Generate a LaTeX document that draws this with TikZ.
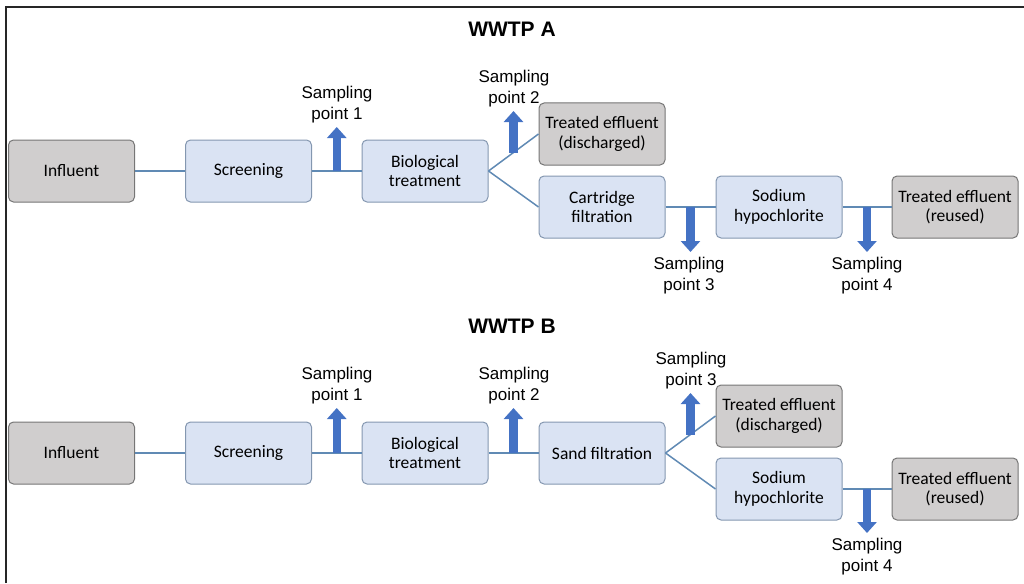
\documentclass[tikz,border=0pt]{standalone}
\usepackage{fontspec}
\setmainfont{Liberation Sans}
\newfontfamily\boxfont{Carlito}
\usetikzlibrary{arrows.meta,positioning,calc}
\definecolor{procfill}{RGB}{218,227,243}
\definecolor{procline}{RGB}{132,151,176}
\definecolor{endfill}{RGB}{208,206,206}
\definecolor{endline}{RGB}{118,118,118}
\definecolor{pipecol}{RGB}{96,138,180}
\definecolor{tapcol}{RGB}{68,114,196}
\tikzset{
  proc/.style={rectangle,rounded corners=5pt,draw=procline,fill=procfill,line width=1pt,minimum width=126pt,minimum height=62pt,align=center,font=\fontsize{17.5}{19.5}\boxfont},
  endb/.style={proc,draw=endline,fill=endfill},
  smp/.style={align=center,inner sep=0pt,font=\fontsize{17}{20.5}\selectfont},
  ttl/.style={font=\fontsize{21}{25}\selectfont\bfseries},
  pipe/.style={pipecol,line width=1.5pt},
  tap/.style={-{Triangle[width=19pt,length=11pt]},tapcol,line width=8.5pt},
}
\begin{document}
\begin{tikzpicture}[x=1pt,y=-1pt]
  \useasboundingbox (0,0) rectangle (1024,583);
  \draw[line width=2pt,black!85] (6,583) -- (6,7) -- (1024,7);

  % WWTP A
  \node[ttl] (tA) at (512,29) {WWTP A};
  \node[endb] (infA) at (71.5,171) {Influent};
  \node[proc] (scrA) at (248.5,171) {Screening};
  \node[proc] (bioA) at (425,171) {Biological\\treatment};
  \node[endb] (disA) at (602,134) {Treated effluent\\(discharged)};
  \node[proc] (carA) at (602,207) {Cartridge\\filtration};
  \node[proc] (sodA) at (779,207) {Sodium\\hypochlorite};
  \node[endb] (reuA) at (955,207) {Treated effluent\\(reused)};
  \draw[pipe] (infA) -- (scrA);
  \draw[pipe] (scrA) -- (bioA);
  \draw[pipe] (bioA.east) -- (disA.west);
  \draw[pipe] (bioA.east) -- (carA.west);
  \draw[pipe] (carA) -- (sodA);
  \draw[pipe] (sodA) -- (reuA);
  \coordinate (a1) at ($(scrA.east)!0.5!(bioA.west)$);
  \coordinate (a2) at ($(bioA.east)!0.5!(disA.west)$);
  \coordinate (a3) at ($(carA.east)!0.5!(sodA.west)$);
  \coordinate (a4) at ($(sodA.east)!0.5!(reuA.west)$);
  \node[smp,anchor=south] (pa1) at (337,123) {Sampling\\point 1};
  \node[smp,anchor=south] (pa2) at (514,107) {Sampling\\point 2};
  \node[smp,anchor=north] (pa3) at (689,257) {Sampling\\point 3};
  \node[smp,anchor=north] (pa4) at (867,257) {Sampling\\point 4};
  \draw[tap] (a1) -- ($(a1 |- pa1.south)+(0,4)$);
  \draw[tap] (a2) -- ($(a2 |- pa2.south)+(0,4)$);
  \draw[tap] (a3) -- ($(a3 |- pa3.north)+(0,-5)$);
  \draw[tap] (a4) -- ($(a4 |- pa4.north)+(0,-5)$);

  % WWTP B
  \node[ttl] (tB) at (512,326) {WWTP B};
  \node[endb] (infB) at (71.5,453) {Influent};
  \node[proc] (scrB) at (248.5,453) {Screening};
  \node[proc] (bioB) at (425,453) {Biological\\treatment};
  \node[proc] (sanB) at (602,453) {Sand filtration};
  \node[endb] (disB) at (779,416) {Treated effluent\\(discharged)};
  \node[proc] (sodB) at (779,489) {Sodium\\hypochlorite};
  \node[endb] (reuB) at (955,489) {Treated effluent\\(reused)};
  \draw[pipe] (infB) -- (scrB);
  \draw[pipe] (scrB) -- (bioB);
  \draw[pipe] (bioB) -- (sanB);
  \draw[pipe] (sanB.east) -- (disB.west);
  \draw[pipe] (sanB.east) -- (sodB.west);
  \draw[pipe] (sodB) -- (reuB);
  \coordinate (b1) at ($(scrB.east)!0.5!(bioB.west)$);
  \coordinate (b2) at ($(bioB.east)!0.5!(sanB.west)$);
  \coordinate (b3) at ($(sanB.east)!0.5!(disB.west)$);
  \coordinate (b4) at ($(sodB.east)!0.5!(reuB.west)$);
  \node[smp,anchor=south] (pb1) at (337,404) {Sampling\\point 1};
  \node[smp,anchor=south] (pb2) at (514,404) {Sampling\\point 2};
  \node[smp,anchor=south] (pb3) at (691,389) {Sampling\\point 3};
  \node[smp,anchor=north] (pb4) at (867,538) {Sampling\\point 4};
  \draw[tap] (b1) -- ($(b1 |- pb1.south)+(0,4)$);
  \draw[tap] (b2) -- ($(b2 |- pb2.south)+(0,4)$);
  \draw[tap] (b3) -- ($(b3 |- pb3.south)+(0,4)$);
  \draw[tap] (b4) -- ($(b4 |- pb4.north)+(0,-5)$);
\end{tikzpicture}
\end{document}
